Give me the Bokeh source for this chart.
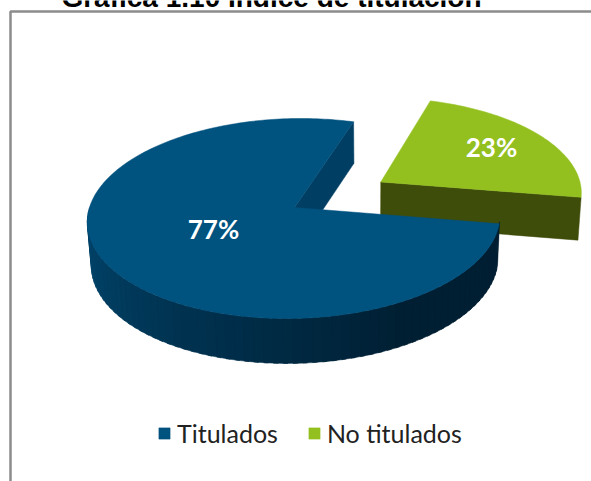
import numpy as np
from bokeh.plotting import figure
from bokeh.models import Range1d, Legend, LegendItem
from bokeh.core.properties import value
from bokeh.embed import file_html
from bokeh.resources import INLINE

title = "Gráfica 1.10 Índice de titulación"
categories = ["Titulados", "No titulados"]
shares = [77, 23]
labels = ["77%", "23%"]
colors_top = ["#00527f", "#93c01f"]
colors_side = ["#003e63", "#3f4d0b"]
legend_colors = ["#00527f", "#97c11a"]
wall_left = np.array([2, 72, 112])
wall_right = np.array([0, 31, 51])

W, H = 591, 481
# projected pie: circle of unit radius seen in perspective
K, SKEW = 0.11, 0.075
TOP = dict(cx=294.0, cy=207.0, A=205.0, B=98.8)
BOT = dict(cx=295.0, cy=250.0, A=202.0, B=100.5)
EXPLODE = 0.5


def proj(u, v, pl):
    d = 1 + K * v
    y = pl["cy"] - pl["B"] * v / d
    x = pl["cx"] + pl["A"] * u / d - SKEW * (y - pl["cy"])
    return x, y


p = figure(width=W, height=H, x_range=Range1d(0, W), y_range=Range1d(H, 0),
           toolbar_location=None, output_backend="svg", min_border=0,
           outline_line_color=None, background_fill_color="white")
p.axis.visible = False
p.grid.visible = False

# angles: green slice centred in the gap, running counter-clockwise
sweep_g = 2 * np.pi * shares[1] / sum(shares)
g0 = np.radians(-9.3)
g1 = g0 + sweep_g
mid = (g0 + g1) / 2
ou, ov = EXPLODE * np.cos(mid), EXPLODE * np.sin(mid)

# green slice
t = np.linspace(g0, g1, 80)
u, v = ou + np.cos(t), ov + np.sin(t)
ax, ay = proj(np.array([ou]), np.array([ov]), TOP)
bx, by = proj(np.array([ou]), np.array([ov]), BOT)
ex, ey = proj(u[:1], v[:1], TOP)
fx, fy = proj(u[:1], v[:1], BOT)
p.patch([ax[0], ex[0], fx[0], bx[0]], [ay[0], ey[0], fy[0], by[0]],
        fill_color=colors_side[1], line_color=colors_side[1], line_width=0.5)
tx, ty = proj(u, v, TOP)
green = p.patch(np.r_[ax, tx], np.r_[ay, ty], fill_color=colors_top[1],
                line_color=colors_top[1], line_width=0.5)

# blue slice: inner wall
sx, sy = proj(np.array([np.cos(g1)]), np.array([np.sin(g1)]), TOP)
s2x, s2y = proj(np.array([np.cos(g1)]), np.array([np.sin(g1)]), BOT)
c1x, c1y = proj(np.array([0.0]), np.array([0.0]), TOP)
c2x, c2y = proj(np.array([0.0]), np.array([0.0]), BOT)
p.patch([c1x[0], sx[0], s2x[0], c2x[0]], [c1y[0], sy[0], s2y[0], c2y[0]],
        fill_color=colors_side[0], line_color=colors_side[0], line_width=0.5)

# blue slice: outer wall, shaded from left to right
wall_t = np.linspace(np.radians(-180), g0, 70)
for a, b in zip(wall_t[:-1], wall_t[1:]):
    tt = np.array([a, b + 0.02])
    x1, y1 = proj(np.cos(tt), np.sin(tt), TOP)
    x2, y2 = proj(np.cos(tt), np.sin(tt), BOT)
    f = np.clip((a - wall_t[0]) / (np.radians(-60) - wall_t[0]), 0, 1)
    c = (wall_left + (wall_right - wall_left) * f).astype(int)
    col = "#%02x%02x%02x" % tuple(int(i) for i in c)
    p.patch(np.r_[x1, x2[::-1]], np.r_[y1, y2[::-1]], fill_color=col, line_color=col, line_width=0.5)

# blue slice: top face
t = np.linspace(g1, g0 + 2 * np.pi, 240)
tx, ty = proj(np.cos(t), np.sin(t), TOP)
blue = p.patch(np.r_[c1x, tx], np.r_[c1y, ty], fill_color=colors_top[0],
               line_color=colors_top[0], line_width=0.5)

# labels
p.text([213, 491], [228, 146], text=labels, text_color="white", text_font=value("Lato"),
       text_font_style="bold", text_font_size="26px", text_align="center", text_baseline="middle")

# chart frame
p.line([10, 10, W], [H, 11, 11], line_color="#8c8c8c", line_width=2.5)

# cropped title
p.text([271], [-3], text=[title], text_color="black", text_font=value("Liberation Sans"),
       text_font_style="bold", text_font_size="28px", text_align="center", text_baseline="alphabetic")

legend = Legend(items=[LegendItem(label=categories[0], renderers=[blue]),
                       LegendItem(label=categories[1], renderers=[green])],
                orientation="horizontal", location=(157, 33), background_fill_alpha=0,
                border_line_color=None, glyph_width=14, glyph_height=14, label_standoff=6,
                spacing=29, padding=8, margin=0, label_text_font="Lato", label_text_font_size="25px",
                label_text_color="#222222")
p.add_layout(legend, "center")

open("out.html", "w").write(file_html(p, INLINE))
